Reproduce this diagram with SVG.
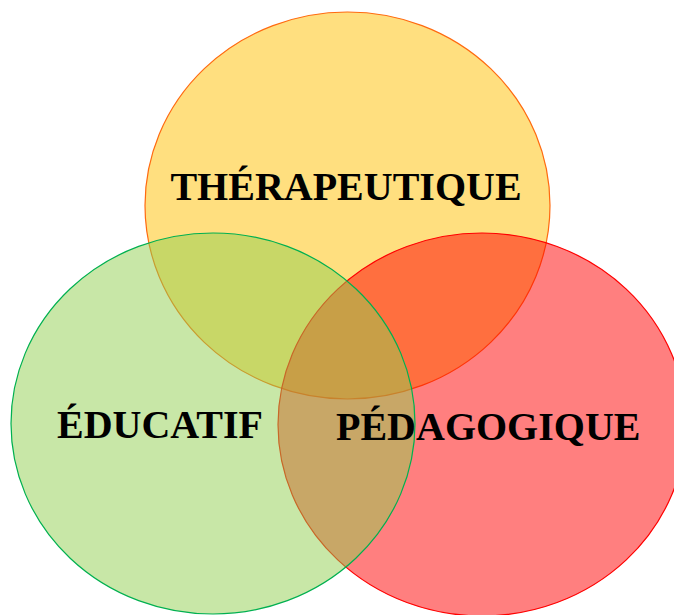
<svg xmlns="http://www.w3.org/2000/svg" width="674" height="615" viewBox="0 0 674 615">
<style>
.c{stroke-width:1.2}
.t{font-family:"Liberation Serif","Times New Roman",serif;font-weight:bold;font-size:40px;fill:#000}
</style>
<rect width="674" height="615" fill="#fff"/>
<g id="therapeutique">
<ellipse class="c" cx="347.5" cy="205.5" rx="202.5" ry="193.5" fill="#FFC000" fill-opacity="0.5" stroke="#FF6A10"/>
</g>
<g id="pedagogique">
<ellipse class="c" cx="482" cy="424.5" rx="204" ry="191.5" fill="#FF0000" fill-opacity="0.5" stroke="#FF0000"/>
</g>
<g id="educatif">
<ellipse class="c" cx="213" cy="423.5" rx="202" ry="190.5" fill="#92D050" fill-opacity="0.5" stroke="#00B050"/>
</g>
<g id="connectors"/>
<g id="labels">
<text class="t" x="346" y="200" text-anchor="middle">THÉRAPEUTIQUE</text>
<text class="t" x="57" y="438">ÉDUCATIF</text>
<text class="t" x="336" y="440">PÉDAGOGIQUE</text>
</g>
</svg>
